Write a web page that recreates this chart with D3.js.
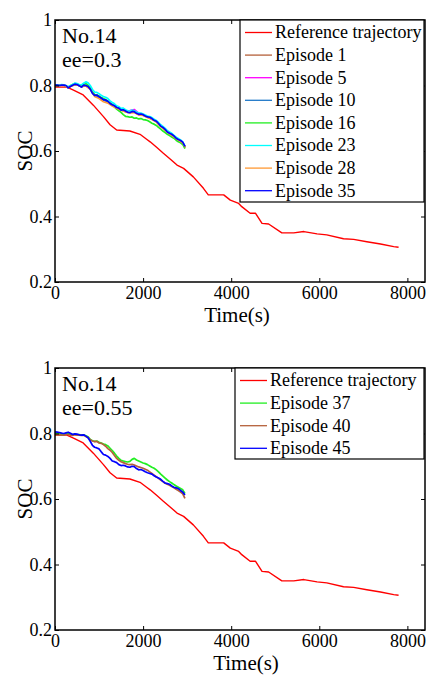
<!DOCTYPE html>
<html>
<head>
<meta charset="utf-8">
<script src="https://cdn.jsdelivr.net/npm/d3@7"></script>
<style>
  html, body { margin: 0; padding: 0; background: #fff; }
  svg { display: block; }
  text { font-family: "Liberation Serif", "Times New Roman", Times, serif; fill: #000; }
</style>
</head>
<body>
<svg id="chart" width="427" height="675" font-family="Liberation Serif, Times New Roman, serif"></svg>
<script>
// ---------------- DATA ----------------
const xTicks = [0, 2000, 4000, 6000, 8000];
const yTicks = [0.2, 0.4, 0.6, 0.8, 1];
const yTickLabels = ["0.2", "0.4", "0.6", "0.8", "1"];

const refTime = [0, 270, 420, 640, 870, 1100, 1250, 1400, 1700, 1930, 2080, 2160, 2300, 2460, 2620, 2770, 2920, 3140, 3370, 3480, 3830, 3980, 4170, 4240, 4430, 4550, 4700, 4850, 5150, 5420, 5650, 5950, 6170, 6550, 6780, 7080, 7390, 7690, 7800];
const refSOC = [0.795, 0.795, 0.786, 0.771, 0.740, 0.705, 0.680, 0.664, 0.661, 0.651, 0.636, 0.628, 0.612, 0.593, 0.575, 0.557, 0.547, 0.521, 0.486, 0.466, 0.466, 0.450, 0.440, 0.430, 0.410, 0.410, 0.379, 0.377, 0.350, 0.350, 0.354, 0.347, 0.344, 0.332, 0.330, 0.323, 0.316, 0.308, 0.306];

// coarse time grid (episodes mostly hidden under others)
const epTime = [0, 100, 200, 300, 400, 500, 600, 700, 800, 900, 1000, 1100, 1200, 1300, 1400, 1500, 1600, 1700, 1800, 1900, 2000, 2100, 2200, 2300, 2400, 2500, 2600, 2700, 2800, 2900, 2960];
// fine time grid (visible episodes)
const epTimeFine = [0, 50, 100, 150, 200, 250, 300, 350, 400, 450, 500, 550, 600, 650, 700, 750, 800, 850, 900, 950, 1000, 1050, 1100, 1150, 1200, 1250, 1300, 1350, 1400, 1450, 1500, 1550, 1600, 1650, 1700, 1750, 1800, 1850, 1900, 1950, 2000, 2050, 2100, 2150, 2200, 2250, 2300, 2350, 2400, 2450, 2500, 2550, 2600, 2650, 2700, 2750, 2800, 2850, 2900, 2950];

// top panel (ee = 0.3)
const ep1  = [0.800,0.800,0.800,0.793,0.800,0.802,0.796,0.799,0.789,0.768,0.764,0.755,0.750,0.740,0.732,0.725,0.720,0.718,0.719,0.711,0.709,0.703,0.697,0.690,0.675,0.664,0.653,0.644,0.634,0.625,0.611];
const ep5  = [0.801,0.801,0.801,0.794,0.802,0.803,0.797,0.801,0.790,0.769,0.765,0.757,0.752,0.742,0.733,0.727,0.723,0.724,0.727,0.716,0.712,0.705,0.700,0.692,0.677,0.666,0.656,0.646,0.636,0.626,0.612];
const ep10 = [0.801,0.801,0.801,0.794,0.801,0.803,0.796,0.800,0.790,0.769,0.765,0.756,0.751,0.741,0.732,0.726,0.721,0.718,0.719,0.712,0.710,0.704,0.698,0.690,0.676,0.665,0.654,0.645,0.635,0.626,0.612];
const ep16 = [0.801,0.800,0.800,0.802,0.802,0.798,0.795,0.799,0.803,0.806,0.805,0.801,0.798,0.803,0.806,0.801,0.794,0.780,0.772,0.771,0.768,0.763,0.760,0.757,0.752,0.746,0.742,0.735,0.728,0.723,0.718,0.711,0.706,0.705,0.703,0.704,0.700,0.701,0.698,0.699,0.696,0.695,0.693,0.689,0.685,0.682,0.678,0.672,0.667,0.661,0.656,0.651,0.647,0.643,0.639,0.633,0.628,0.625,0.620,0.607];
const ep23 = [0.801,0.802,0.801,0.803,0.802,0.799,0.796,0.800,0.803,0.807,0.806,0.803,0.802,0.807,0.811,0.808,0.800,0.788,0.780,0.779,0.775,0.770,0.766,0.764,0.760,0.753,0.748,0.744,0.738,0.735,0.730,0.731,0.726,0.723,0.722,0.725,0.723,0.719,0.716,0.716,0.713,0.710,0.707,0.705,0.702,0.697,0.693,0.687,0.680,0.675,0.669,0.662,0.658,0.654,0.648,0.642,0.638,0.634,0.628,0.615];
const ep28 = [0.800,0.800,0.801,0.794,0.800,0.802,0.796,0.799,0.788,0.766,0.760,0.750,0.746,0.737,0.730,0.724,0.719,0.716,0.717,0.710,0.708,0.702,0.696,0.688,0.674,0.663,0.652,0.643,0.633,0.624,0.611];
const ep35 = [0.801,0.801,0.800,0.801,0.801,0.800,0.793,0.797,0.801,0.804,0.803,0.799,0.795,0.801,0.800,0.797,0.789,0.776,0.770,0.771,0.766,0.762,0.757,0.756,0.752,0.745,0.741,0.738,0.733,0.731,0.725,0.726,0.722,0.718,0.717,0.721,0.720,0.715,0.712,0.713,0.711,0.707,0.704,0.703,0.699,0.694,0.691,0.684,0.676,0.672,0.666,0.658,0.654,0.651,0.646,0.639,0.635,0.632,0.627,0.614];

// bottom panel (ee = 0.55)
const ep37 = [0.800,0.801,0.800,0.798,0.797,0.799,0.800,0.798,0.797,0.798,0.796,0.797,0.795,0.796,0.793,0.790,0.782,0.778,0.776,0.777,0.773,0.771,0.768,0.766,0.762,0.755,0.748,0.740,0.731,0.724,0.718,0.716,0.714,0.713,0.715,0.721,0.724,0.719,0.716,0.713,0.710,0.708,0.705,0.701,0.697,0.694,0.689,0.683,0.676,0.670,0.664,0.658,0.653,0.649,0.644,0.640,0.636,0.632,0.628,0.617];
const ep40 = [0.796,0.796,0.796,0.795,0.795,0.797,0.797,0.795,0.794,0.796,0.795,0.795,0.794,0.795,0.791,0.788,0.781,0.777,0.775,0.776,0.771,0.770,0.766,0.761,0.754,0.749,0.742,0.733,0.724,0.718,0.714,0.711,0.708,0.706,0.705,0.706,0.704,0.701,0.698,0.696,0.694,0.691,0.688,0.683,0.678,0.673,0.668,0.663,0.658,0.653,0.648,0.645,0.642,0.638,0.634,0.630,0.626,0.621,0.616,0.602];
const ep45 = [0.805,0.804,0.803,0.801,0.800,0.802,0.804,0.801,0.797,0.799,0.798,0.796,0.795,0.796,0.792,0.787,0.776,0.764,0.758,0.756,0.753,0.744,0.736,0.734,0.730,0.724,0.716,0.714,0.711,0.705,0.702,0.703,0.701,0.698,0.697,0.700,0.699,0.693,0.689,0.690,0.687,0.683,0.680,0.678,0.676,0.671,0.667,0.664,0.660,0.654,0.649,0.647,0.645,0.640,0.636,0.634,0.632,0.626,0.621,0.612];

const panels = [
  {
    top: 20, title1: "No.14", title2: "ee=0.3", xLabelX: 237,
    legendLeft: 240, legendBottom: 202,
    series: [
      { name: "Reference trajectory", t: refTime, v: refSOC, color: "#ff0000", w: 1.4 },
      { name: "Episode 1",  t: epTime, v: ep1,  color: "#b5603a", w: 1.4 },
      { name: "Episode 5",  t: epTime, v: ep5,  color: "#ff00ff", w: 1.4 },
      { name: "Episode 10", t: epTime, v: ep10, color: "#1f78c8", w: 1.4 },
      { name: "Episode 16", t: epTimeFine, v: ep16, color: "#22ee22", w: 1.7 },
      { name: "Episode 23", t: epTimeFine, v: ep23, color: "#00ffff", w: 1.7 },
      { name: "Episode 28", t: epTime, v: ep28, color: "#ff9933", w: 1.5 },
      { name: "Episode 35", t: epTimeFine, v: ep35, color: "#0000ff", w: 1.7 }
    ]
  },
  {
    top: 368, title1: "No.14", title2: "ee=0.55", xLabelX: 246,
    legendLeft: 235, legendBottom: 459,
    series: [
      { name: "Reference trajectory", t: refTime, v: refSOC, color: "#ff0000", w: 1.4 },
      { name: "Episode 37", t: epTimeFine, v: ep37, color: "#22ee22", w: 1.7 },
      { name: "Episode 40", t: epTimeFine, v: ep40, color: "#b5603a", w: 1.7 },
      { name: "Episode 45", t: epTimeFine, v: ep45, color: "#0000ff", w: 1.7 }
    ]
  }
];

// ---------------- DRAW ----------------
const svg = d3.select("#chart");
const left = 55, right = 425, plotH = 262;
const fontTick = 18, fontLabel = 21;
const serif = "'Liberation Serif', 'Times New Roman', Times, serif";

panels.forEach(p => {
  const top = p.top, bottom = top + plotH;
  const x = d3.scaleLinear().domain([0, 8400]).range([left, right]);
  const y = d3.scaleLinear().domain([0.2, 1]).range([bottom, top]);
  const g = svg.append("g");

  const clipId = "clip" + top;
  svg.append("clipPath").attr("id", clipId)
    .append("rect").attr("x", left).attr("y", top).attr("width", right - left).attr("height", plotH);

  const line = d3.line().x(d => x(d[0])).y(d => y(d[1]));
  const lg = g.append("g").attr("clip-path", `url(#${clipId})`);
  p.series.forEach(s => {
    const pts = s.t.map((t, i) => [t, s.v[i]]);
    lg.append("path").attr("d", line(pts))
      .attr("fill", "none").attr("stroke", s.color)
      .attr("stroke-width", s.w).attr("stroke-linejoin", "round");
  });

  const fmtY = d => yTickLabels[yTicks.indexOf(d)];
  const ax = g.append("g").attr("transform", `translate(0,${bottom})`)
    .call(d3.axisBottom(x).tickValues(xTicks).tickSize(-4).tickPadding(4).tickFormat(d3.format("d")));
  const axT = g.append("g").attr("transform", `translate(0,${top})`)
    .call(d3.axisTop(x).tickValues(xTicks).tickSize(-4).tickFormat(""));
  const ay = g.append("g").attr("transform", `translate(${left},0)`)
    .call(d3.axisLeft(y).tickValues(yTicks).tickSize(-4).tickPadding(3).tickFormat(fmtY));
  const ayR = g.append("g").attr("transform", `translate(${right},0)`)
    .call(d3.axisRight(y).tickValues(yTicks).tickSize(-4).tickFormat(""));
  [ax, axT, ay, ayR].forEach(a => {
    a.attr("font-family", null).attr("font-size", null);
    a.select(".domain").remove();
    a.selectAll("line").attr("stroke", "#000").attr("stroke-width", 1);
    a.selectAll("text").style("font-family", serif)
      .style("font-size", fontTick + "px").attr("fill", "#000");
  });

  g.append("rect").attr("x", left).attr("y", top).attr("width", right - left).attr("height", plotH)
    .attr("fill", "none").attr("stroke", "#000").attr("stroke-width", 1.5);

  g.append("text").attr("x", 62).attr("y", top + 23).style("font-family", serif).style("font-size", "22px").text(p.title1);
  g.append("text").attr("x", 62).attr("y", top + 47).style("font-family", serif).style("font-size", "22px").text(p.title2);

  g.append("text").attr("transform", `translate(32,${(top + bottom) / 2}) rotate(-90)`)
    .attr("text-anchor", "middle").style("font-family", serif).style("font-size", fontLabel + "px").text("SOC");
  g.append("text").attr("x", p.xLabelX).attr("y", bottom + 40)
    .attr("text-anchor", "middle").style("font-family", serif).style("font-size", fontLabel + "px").text("Time(s)");

  const lgd = g.append("g");
  lgd.append("rect").attr("x", p.legendLeft).attr("y", top)
    .attr("width", right - 1 - p.legendLeft).attr("height", p.legendBottom - top)
    .attr("fill", "#fff").attr("stroke", "#000").attr("stroke-width", 1.2);
  p.series.forEach((s, i) => {
    const cy = top + 12.5 + i * 22.6;
    lgd.append("line").attr("x1", p.legendLeft + 5).attr("x2", p.legendLeft + 32)
      .attr("y1", cy).attr("y2", cy).attr("stroke", s.color).attr("stroke-width", 1.3);
    lgd.append("text").attr("x", p.legendLeft + 35).attr("y", cy).attr("dy", "0.33em")
      .style("font-family", serif).style("font-size", "18px").text(s.name);
  });
});
</script>
</body>
</html>
